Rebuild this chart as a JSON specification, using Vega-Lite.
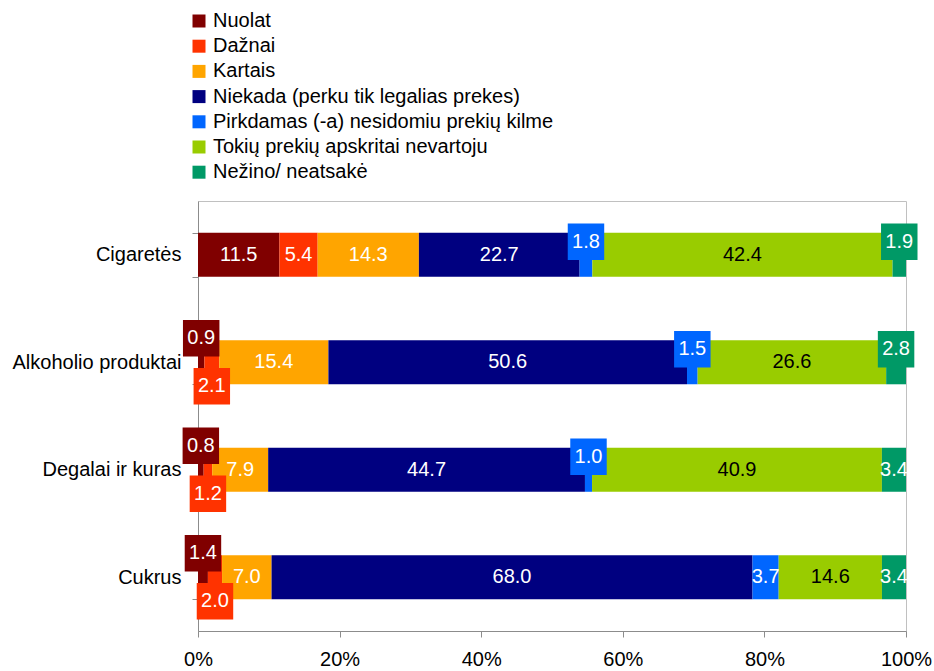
{
  "$schema": "https://vega.github.io/schema/vega-lite/v6.json",
  "width": 708,
  "height": 430,
  "autosize": {"type": "none"},
  "padding": {"left": 198, "top": 201, "right": 28, "bottom": 40},
  "background": "white",
  "config": {
    "font": "Liberation Sans",
    "view": {"stroke": "#c0c0c0", "strokeWidth": 1}
  },
  "data": {
    "values": [
      {"c": "Cigaretės", "s": "Nuolat", "k": 1, "v": 11.5},
      {"c": "Cigaretės", "s": "Dažnai", "k": 2, "v": 5.4},
      {"c": "Cigaretės", "s": "Kartais", "k": 3, "v": 14.3},
      {"c": "Cigaretės", "s": "Niekada (perku tik legalias prekes)", "k": 4, "v": 22.7},
      {"c": "Cigaretės", "s": "Pirkdamas (-a) nesidomiu prekių kilme", "k": 5, "v": 1.8},
      {"c": "Cigaretės", "s": "Tokių prekių apskritai nevartoju", "k": 6, "v": 42.4},
      {"c": "Cigaretės", "s": "Nežino/ neatsakė", "k": 7, "v": 1.9},
      {"c": "Alkoholio produktai", "s": "Nuolat", "k": 1, "v": 0.9},
      {"c": "Alkoholio produktai", "s": "Dažnai", "k": 2, "v": 2.1},
      {"c": "Alkoholio produktai", "s": "Kartais", "k": 3, "v": 15.4},
      {"c": "Alkoholio produktai", "s": "Niekada (perku tik legalias prekes)", "k": 4, "v": 50.6},
      {"c": "Alkoholio produktai", "s": "Pirkdamas (-a) nesidomiu prekių kilme", "k": 5, "v": 1.5},
      {"c": "Alkoholio produktai", "s": "Tokių prekių apskritai nevartoju", "k": 6, "v": 26.6},
      {"c": "Alkoholio produktai", "s": "Nežino/ neatsakė", "k": 7, "v": 2.8},
      {"c": "Degalai ir kuras", "s": "Nuolat", "k": 1, "v": 0.8},
      {"c": "Degalai ir kuras", "s": "Dažnai", "k": 2, "v": 1.2},
      {"c": "Degalai ir kuras", "s": "Kartais", "k": 3, "v": 7.9},
      {"c": "Degalai ir kuras", "s": "Niekada (perku tik legalias prekes)", "k": 4, "v": 44.7},
      {"c": "Degalai ir kuras", "s": "Pirkdamas (-a) nesidomiu prekių kilme", "k": 5, "v": 1.0},
      {"c": "Degalai ir kuras", "s": "Tokių prekių apskritai nevartoju", "k": 6, "v": 40.9},
      {"c": "Degalai ir kuras", "s": "Nežino/ neatsakė", "k": 7, "v": 3.4},
      {"c": "Cukrus", "s": "Nuolat", "k": 1, "v": 1.4},
      {"c": "Cukrus", "s": "Dažnai", "k": 2, "v": 2.0},
      {"c": "Cukrus", "s": "Kartais", "k": 3, "v": 7.0},
      {"c": "Cukrus", "s": "Niekada (perku tik legalias prekes)", "k": 4, "v": 68.0},
      {"c": "Cukrus", "s": "Pirkdamas (-a) nesidomiu prekių kilme", "k": 5, "v": 3.7},
      {"c": "Cukrus", "s": "Tokių prekių apskritai nevartoju", "k": 6, "v": 14.6},
      {"c": "Cukrus", "s": "Nežino/ neatsakė", "k": 7, "v": 3.4}
    ]
  },
  "transform": [
    {"stack": "v", "groupby": ["c"], "sort": [{"field": "k", "order": "ascending"}], "offset": "normalize", "as": ["x0", "x1"]},
    {"calculate": "(datum.x0 + datum.x1) / 2", "as": "xm"}
  ],
  "encoding": {
    "y": {
      "field": "c",
      "type": "nominal",
      "sort": ["Cigaretės", "Alkoholio produktai", "Degalai ir kuras", "Cukrus"],
      "scale": {"paddingInner": 0.59, "paddingOuter": 0.295},
      "axis": {
        "title": null,
        "labelFontSize": 20,
        "labelColor": "#000000",
        "domainColor": "#8c8c8c",
        "tickColor": "#8c8c8c",
        "tickBand": "extent",
        "tickSize": 6,
        "labelPadding": 11
      }
    }
  },
  "layer": [
    {
      "mark": {"type": "bar"},
      "encoding": {
        "x": {
          "field": "x0",
          "type": "quantitative",
          "scale": {"domain": [0, 1], "nice": false},
          "axis": {
            "title": null,
            "format": ".0%",
            "values": [0, 0.2, 0.4, 0.6, 0.8, 1],
            "grid": false,
            "labelFontSize": 20,
            "labelColor": "#000000",
            "domainColor": "#8c8c8c",
            "tickColor": "#8c8c8c",
            "tickSize": 6,
            "labelPadding": 12,
            "labelFlush": false
          }
        },
        "x2": {"field": "x1"},
        "color": {
          "field": "s",
          "type": "nominal",
          "scale": {
            "domain": ["Nuolat", "Dažnai", "Kartais", "Niekada (perku tik legalias prekes)", "Pirkdamas (-a) nesidomiu prekių kilme", "Tokių prekių apskritai nevartoju", "Nežino/ neatsakė"],
            "range": ["#800000", "#ff3300", "#ffa500", "#000080", "#0066ff", "#99cc00", "#009966"]
          },
          "legend": {
            "title": null,
            "orient": "none",
            "legendX": -9,
            "legendY": -190,
            "symbolType": "square",
            "symbolSize": 169,
            "symbolStrokeWidth": 0,
            "labelFontSize": 20,
            "labelColor": "#000000",
            "labelOffset": 4,
            "rowPadding": 5.2,
            "labelLimit": 500
          }
        }
      }
    },
    {
      "transform": [{"filter": "datum.v >= 3"}],
      "mark": {"type": "text", "fontSize": 20, "baseline": "middle", "align": "center"},
      "encoding": {
        "x": {"field": "xm", "type": "quantitative"},
        "text": {"field": "v", "type": "quantitative", "format": ".1f"},
        "color": {
          "condition": {"test": "datum.s === 'Tokių prekių apskritai nevartoju'", "value": "#000000"},
          "value": "#ffffff"
        }
      }
    },
    {
      "transform": [{"filter": "datum.v < 3 && datum.s === 'Nuolat'"}],
      "mark": {"type": "point", "shape": "square", "filled": true, "opacity": 1, "size": 1330, "yOffset": -24},
      "encoding": {
        "x": {"field": "xm", "type": "quantitative"},
        "color": {"field": "s", "type": "nominal", "legend": null}
      }
    },
    {
      "transform": [{"filter": "datum.v < 3 && datum.s === 'Nuolat'"}],
      "mark": {"type": "text", "fontSize": 20, "baseline": "middle", "align": "center", "yOffset": -24, "color": "#ffffff"},
      "encoding": {
        "x": {"field": "xm", "type": "quantitative"},
        "text": {"field": "v", "type": "quantitative", "format": ".1f"}
      }
    },
    {
      "transform": [{"filter": "datum.v < 3 && datum.s === 'Dažnai'"}],
      "mark": {"type": "point", "shape": "square", "filled": true, "opacity": 1, "size": 1330, "yOffset": 24},
      "encoding": {
        "x": {"field": "xm", "type": "quantitative"},
        "color": {"field": "s", "type": "nominal", "legend": null}
      }
    },
    {
      "transform": [{"filter": "datum.v < 3 && datum.s === 'Dažnai'"}],
      "mark": {"type": "text", "fontSize": 20, "baseline": "middle", "align": "center", "yOffset": 24, "color": "#ffffff"},
      "encoding": {
        "x": {"field": "xm", "type": "quantitative"},
        "text": {"field": "v", "type": "quantitative", "format": ".1f"}
      }
    },
    {
      "transform": [{"filter": "datum.v < 3 && datum.s !== 'Nuolat' && datum.s !== 'Dažnai'"}],
      "mark": {"type": "point", "shape": "square", "filled": true, "opacity": 1, "size": 1330, "yOffset": -13},
      "encoding": {
        "x": {"field": "xm", "type": "quantitative"},
        "color": {"field": "s", "type": "nominal", "legend": null}
      }
    },
    {
      "transform": [{"filter": "datum.v < 3 && datum.s !== 'Nuolat' && datum.s !== 'Dažnai'"}],
      "mark": {"type": "text", "fontSize": 20, "baseline": "middle", "align": "center", "yOffset": -13, "color": "#ffffff"},
      "encoding": {
        "x": {"field": "xm", "type": "quantitative"},
        "text": {"field": "v", "type": "quantitative", "format": ".1f"}
      }
    }
  ]
}
